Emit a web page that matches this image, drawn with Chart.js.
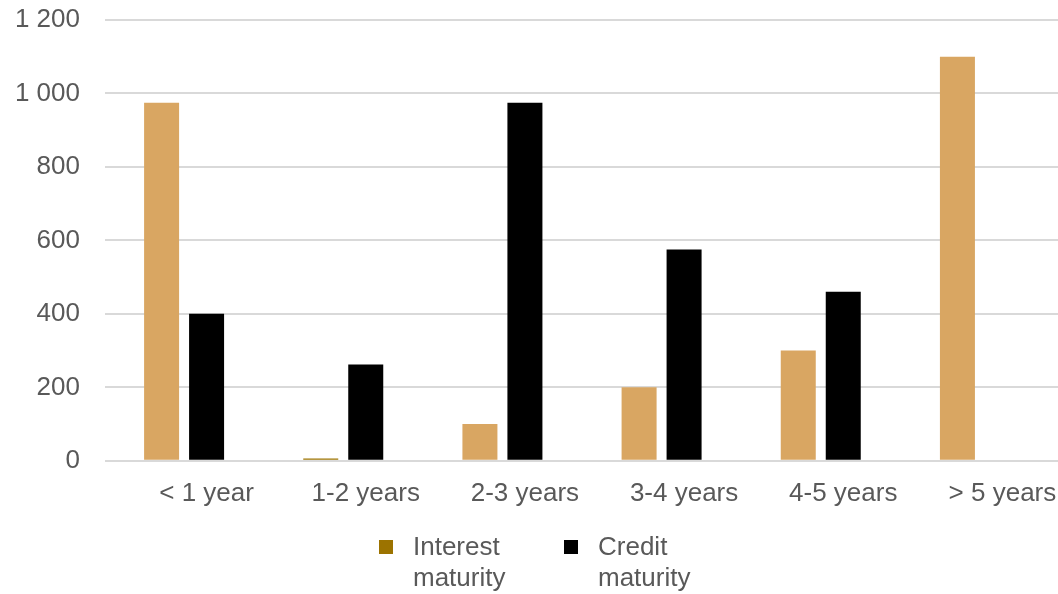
<!DOCTYPE html>
<html lang="en">

<head>
    <meta charset="UTF-8">
    <title>Maturity</title>
    <style>
        body {
            margin: 0;
            background: #fff;
        }

        #wrap {
            position: relative;
            width: 1058px;
            height: 594px;
            overflow: hidden;
        }

        .leg {
            position: absolute;
            top: 531px;
            font: 26px "Liberation Sans", Arial, sans-serif;
            color: #595959;
            line-height: 31px;
        }

        .leg i {
            position: absolute;
            left: -34px;
            top: 9px;
            width: 14px;
            height: 14px;
        }
    </style>
</head>

<body>
    <div id="wrap">
        <!-- plot runs a bit past the right edge, like the cropped original -->
        <canvas id="myChart" width="1082" height="594"></canvas>
        <div class="leg" style="left: 413px;"><i style="background: #9c7300;"></i>Interest<br>maturity</div>
        <div class="leg" style="left: 598px;"><i style="background: #000;"></i>Credit<br>maturity</div>
    </div>

    <script src="https://cdn.jsdelivr.net/npm/chart.js"></script>

    <script>
        // categories and values
        const categories = ['< 1 year', '1-2 years', '2-3 years', '3-4 years', '4-5 years', '> 5 years'];
        const interestMaturity = [975, 6, 100, 200, 300, 1100];
        const creditMaturity = [400, 262, 975, 575, 460, 0];
        // third, empty series: it still takes a slot in each group
        const emptySeries = [null, null, null, null, null, null];
        const yTicks = [0, 200, 400, 600, 800, 1000, 1200];

        // the 1-2 years bar kept the series default colour
        const interestColors = ['#d9a662', '#9c7300', '#d9a662', '#d9a662', '#d9a662', '#d9a662'];

        const ctx = document.getElementById('myChart');

        const barOpts = { categoryPercentage: 0.848, barPercentage: 0.778 };

        var myChart = new Chart(ctx, {
            type: 'bar',
            data: {
                labels: categories,
                datasets: [{
                    label: 'Interest maturity',
                    data: interestMaturity,
                    backgroundColor: interestColors,
                    ...barOpts
                }, {
                    label: 'Credit maturity',
                    data: creditMaturity,
                    backgroundColor: '#000000',
                    ...barOpts
                }, {
                    label: '',
                    data: emptySeries,
                    backgroundColor: 'transparent',
                    ...barOpts
                }]
            },
            options: {
                responsive: false,
                animation: false,
                layout: {
                    padding: { top: 20, right: 0, bottom: 76, left: 0 }
                },
                scales: {
                    x: {
                        grid: { display: false },
                        border: { display: false },
                        ticks: {
                            color: '#595959',
                            font: { family: '"Liberation Sans", Arial', size: 26 },
                            padding: 9,
                            maxRotation: 0
                        }
                    },
                    y: {
                        min: 0,
                        max: 1200,
                        afterFit: (axis) => {
                            axis.width = 127;
                            axis.paddingTop = 0;
                            axis.paddingBottom = 0;
                        },
                        afterBuildTicks: (axis) => {
                            axis.ticks = yTicks.map(v => ({ value: v }));
                        },
                        grid: {
                            color: '#d9d9d9',
                            lineWidth: 2,
                            drawTicks: true,
                            tickLength: 22,
                            tickColor: '#d9d9d9',
                            tickWidth: 2
                        },
                        border: { display: false },
                        ticks: {
                            color: '#595959',
                            font: { family: '"Liberation Sans", Arial', size: 26 },
                            padding: 25,
                            callback: (v) => String(v).replace(/\B(?=(\d{3})+(?!\d))/g, ' ')
                        }
                    }
                },
                plugins: {
                    legend: { display: false },
                    tooltip: { enabled: false }
                }
            }
        });
    </script>

</body>

</html>
